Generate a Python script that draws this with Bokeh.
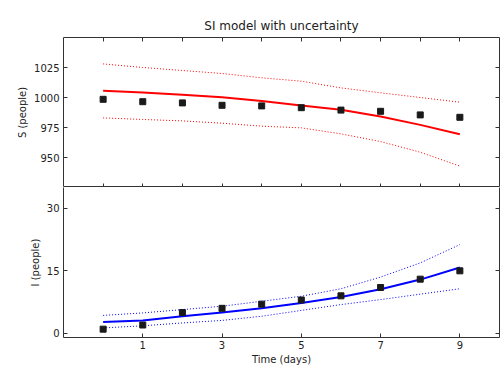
from bokeh.plotting import figure
from bokeh.layouts import column
from bokeh.models import LinearAxis, FixedTicker, ColumnDataSource, Range1d, CustomLabelingPolicy
from bokeh.embed import file_html
from bokeh.resources import INLINE

# ---- data ----
days = [0, 1, 2, 3, 4, 5, 6, 7, 8, 9]
s_obs = [998.5, 996.5, 995.5, 993.5, 993, 991.5, 989.5, 988.5, 985.5, 983.5]
s_mean = [1005.6, 1004.2, 1002.2, 1000.2, 997.0, 993.3, 989.7, 984.2, 977.2, 969.4]
s_upper = [1028, 1025, 1022.5, 1020, 1016.4, 1013.6, 1008, 1003.9, 1000, 996.1]
s_lower = [983, 981.7, 980.5, 978.6, 976.1, 974.7, 969.7, 963.3, 954.4, 942.8]

i_obs = [1, 2, 5, 6, 7, 8, 9, 11, 13, 15]
i_mean = [2.7, 3.1, 4.1, 5.0, 6.0, 7.3, 8.7, 10.6, 12.9, 15.8]
i_upper = [4.3, 4.9, 5.7, 6.5, 7.7, 8.9, 10.7, 13.5, 16.9, 21.3]
i_lower = [1.3, 1.8, 2.5, 3.1, 4.1, 5.5, 6.9, 8.1, 9.4, 10.7]

s_ticks = [950, 975, 1000, 1025]
i_ticks = [0, 15, 30]
top_x_ticks = [0, 1, 2, 3, 4, 5, 6, 7, 8, 9]
bottom_x_ticks = [1, 3, 5, 7, 9]

title_text = "SI model with uncertainty"
s_label = "S (people)"
i_label = "I (people)"
x_label = "Time (days)"

FONT = "DejaVu Sans"
TXT = "#222222"
SPINE = "#333333"

HIDE = """
const all = [...indices]
for (const i of all) indices.unset(i)
return indices
"""


def style_axis(ax, show_labels=True, line=False):
    ax.axis_line_color = SPINE if line else None
    ax.axis_line_width = 1
    ax.major_tick_in = 4
    ax.major_tick_out = 0
    ax.minor_tick_line_color = None
    ax.major_tick_line_color = SPINE
    ax.major_label_text_font = FONT
    ax.major_label_text_color = TXT
    ax.axis_label_text_font = FONT
    ax.axis_label_text_font_style = "normal"
    ax.axis_label_text_color = TXT
    ax.axis_label_text_font_size = "10px"
    if show_labels:
        ax.major_label_text_font_size = "10px"
        ax.major_label_standoff = 4
    else:
        ax.major_label_text_font_size = "0px"
        ax.major_label_standoff = 0
        ax.major_label_policy = CustomLabelingPolicy(code=HIDE)


def base_fig(ylo, yhi, top_border, bottom_border):
    p = figure(width=500, frame_width=436, frame_height=150,
               x_range=Range1d(-1, 10), y_range=Range1d(ylo, yhi),
               output_backend="svg", toolbar_location=None,
               min_border_left=63, min_border_right=1,
               min_border_top=top_border, min_border_bottom=bottom_border,
               background_fill_color="white", border_fill_color="white")
    p.grid.visible = False
    return p


# ---- top panel: S ----
p1 = base_fig(925, 1050, 37, 0)
p1.outline_line_color = SPINE
p1.outline_line_width = 1
p1.title.text = title_text
p1.title.text_font = FONT
p1.title.text_font_size = "12px"
p1.title.text_font_style = "normal"
p1.title.text_color = TXT
p1.title.align = "center"

src_s = ColumnDataSource(dict(x=days, obs=s_obs, mean=s_mean, up=s_upper, lo=s_lower))
p1.line("x", "up", source=src_s, color="red", line_width=1, line_dash="1 2")
p1.line("x", "lo", source=src_s, color="red", line_width=1, line_dash="1 2")
p1.line("x", "mean", source=src_s, color="red", line_width=2)
p1.scatter("x", "obs", source=src_s, marker="square", size=6, color="#1a1a1a")

p1.xaxis.ticker = FixedTicker(ticks=top_x_ticks)
style_axis(p1.xaxis[0], show_labels=False)
p1.yaxis.ticker = FixedTicker(ticks=s_ticks)
style_axis(p1.yaxis[0])
p1.yaxis.axis_label = s_label
p1.yaxis.axis_label_standoff = 3

ax_top = LinearAxis(ticker=FixedTicker(ticks=top_x_ticks))
style_axis(ax_top, show_labels=False)
p1.add_layout(ax_top, "above")
ax_r1 = LinearAxis(ticker=FixedTicker(ticks=s_ticks))
style_axis(ax_r1, show_labels=False)
p1.add_layout(ax_r1, "right")

# ---- bottom panel: I ----
p2 = base_fig(-1, 35, 0, 38)
p2.outline_line_color = None
src_i = ColumnDataSource(dict(x=days, obs=i_obs, mean=i_mean, up=i_upper, lo=i_lower))
p2.line("x", "up", source=src_i, color="blue", line_width=1, line_dash="1 2")
p2.line("x", "lo", source=src_i, color="blue", line_width=1, line_dash="1 2")
p2.line("x", "mean", source=src_i, color="blue", line_width=2)
p2.scatter("x", "obs", source=src_i, marker="square", size=6, color="#1a1a1a")

p2.xaxis.ticker = FixedTicker(ticks=bottom_x_ticks)
style_axis(p2.xaxis[0], line=True)
p2.xaxis.major_label_standoff = 3
p2.xaxis.axis_label = x_label
p2.xaxis.axis_label_standoff = 2
p2.yaxis.ticker = FixedTicker(ticks=i_ticks)
style_axis(p2.yaxis[0], line=True)
p2.yaxis.axis_label = i_label
p2.yaxis.axis_label_standoff = 3

ax_r2 = LinearAxis(ticker=FixedTicker(ticks=i_ticks))
style_axis(ax_r2, show_labels=False, line=True)
p2.add_layout(ax_r2, "right")

layout = column(p1, p2, spacing=0)
open("out.html", "w").write(file_html(layout, INLINE))
